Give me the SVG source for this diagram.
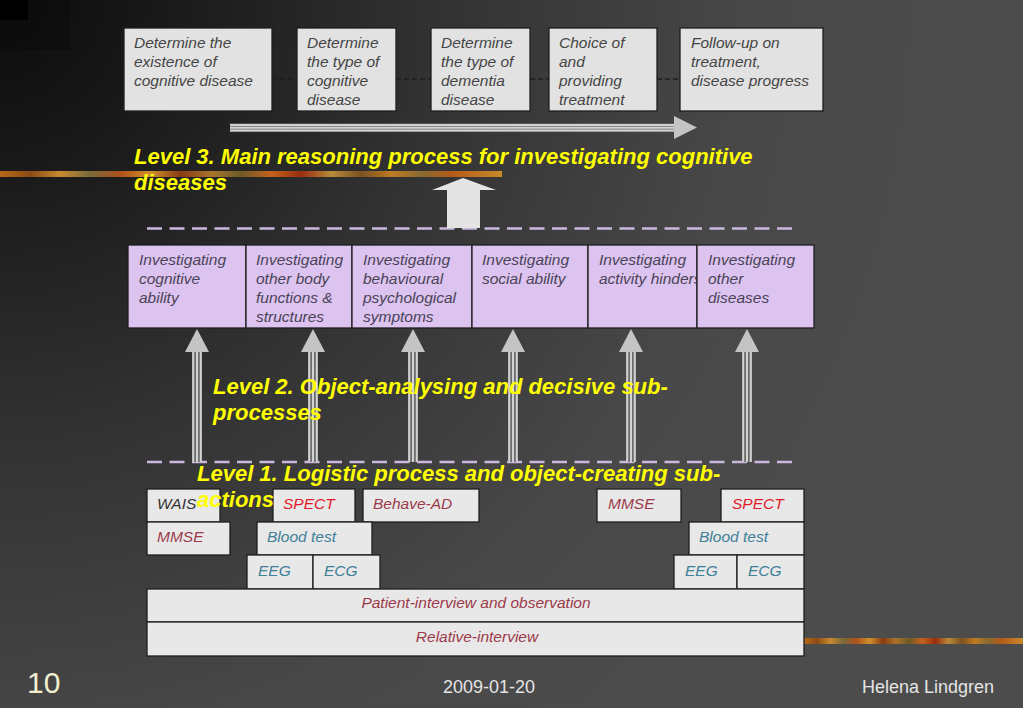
<svg xmlns="http://www.w3.org/2000/svg" width="1023" height="708" viewBox="0 0 1023 708">
<defs>
<radialGradient id="bg" gradientUnits="userSpaceOnUse" cx="0" cy="0" r="1000">
<stop offset="0" stop-color="#0c0c0c"/>
<stop offset="0.15" stop-color="#181818"/>
<stop offset="0.45" stop-color="#333333"/>
<stop offset="0.75" stop-color="#484848"/>
<stop offset="1" stop-color="#4c4c4c"/>
</radialGradient>
<linearGradient id="stripe" x1="0" y1="0" x2="1" y2="0">
<stop offset="0" stop-color="#b86a18"/>
<stop offset="0.06" stop-color="#8c4a14"/>
<stop offset="0.12" stop-color="#c88a30"/>
<stop offset="0.18" stop-color="#7a6a3a"/>
<stop offset="0.24" stop-color="#b0501a"/>
<stop offset="0.30" stop-color="#d0902c"/>
<stop offset="0.36" stop-color="#8a3a12"/>
<stop offset="0.42" stop-color="#a8742a"/>
<stop offset="0.48" stop-color="#6e5a28"/>
<stop offset="0.54" stop-color="#c4621c"/>
<stop offset="0.60" stop-color="#9a2e10"/>
<stop offset="0.66" stop-color="#b88a3a"/>
<stop offset="0.72" stop-color="#7a5020"/>
<stop offset="0.78" stop-color="#c07a22"/>
<stop offset="0.84" stop-color="#8a6a30"/>
<stop offset="0.90" stop-color="#b45a18"/>
<stop offset="1" stop-color="#c88a2a"/>
</linearGradient>
<marker id="dummy" markerWidth="1" markerHeight="1"/>
</defs>
<style>
.box{fill:#e2e2e2;stroke:#1e1e1e;stroke-width:1.3}
.lbox{fill:#e8e8e8;stroke:#1e1e1e;stroke-width:1.3}
.pbox{fill:#dcc3f0;stroke:#1e1e1e;stroke-width:1.3}
.t{font-family:"Liberation Sans",Arial,sans-serif;font-style:italic;font-size:15.5px;fill:#454545}
.pt{font-family:"Liberation Sans",Arial,sans-serif;font-style:italic;font-size:15.5px;fill:#4a4356}
.mr{fill:#9c3a4a}
.rd{fill:#e21a28}
.tl{fill:#3d8098}
.dk{fill:#333333}
.lvl{font-family:"Liberation Sans",Arial,sans-serif;font-style:italic;font-weight:bold;font-size:22px;fill:#ffff00}
.ft{font-family:"Liberation Sans",Arial,sans-serif;font-size:18px;fill:#e4e4e4}
.dash{stroke:#1e1e1e;stroke-width:1.5;stroke-dasharray:5 3;fill:none}
.lav{stroke:#c9b9df;stroke-width:2.5;stroke-dasharray:15 7.5;fill:none}
.shaftbg{fill:#6e6e6e}
.shaft{stroke:#d2d2d2;stroke-width:2;fill:none}
.head{fill:#c4c4c4}
</style>
<rect x="0" y="0" width="1023" height="708" fill="url(#bg)"/>
<rect x="0" y="0" width="70" height="50" fill="#0a0a0a" opacity="0.5"/>
<rect x="0" y="0" width="28" height="20" fill="#000000"/>
<rect x="0" y="171" width="502" height="6" fill="url(#stripe)"/>
<rect x="804" y="638" width="219" height="6" fill="url(#stripe)"/>

<g id="connectors">
<line class="dash" x1="272" y1="79" x2="297" y2="79"/>
<line class="dash" x1="396" y1="79" x2="431" y2="79"/>
<line class="dash" x1="530" y1="79" x2="549" y2="79"/>
<line class="dash" x1="657" y1="79" x2="680" y2="79"/>
<g id="main-arrow">
<rect class="shaftbg" x="230" y="123.5" width="444" height="8.5"/>
<line class="shaft" x1="230" y1="125" x2="674" y2="125" stroke-width="1.6"/>
<line class="shaft" x1="230" y1="127.8" x2="674" y2="127.8" stroke-width="1.6"/>
<line class="shaft" x1="230" y1="130.6" x2="674" y2="130.6" stroke-width="1.6"/>
<polygon class="head" points="674,116 697,127.5 674,139"/>
</g>
<line class="lav" x1="147" y1="228.5" x2="792" y2="228.5"/>
<line class="lav" x1="147" y1="462" x2="792" y2="462"/>
<polygon id="big-up-arrow" points="447,228 447,190 432,190 463,178 496,190 480,190 480,228" fill="#e4e4e4"/>
<g id="up-arrows">
<g transform="translate(197,0)">
<rect class="shaftbg" x="-5" y="352" width="10" height="110"/>
<line class="shaft" x1="-3.8" y1="352" x2="-3.8" y2="462"/><line class="shaft" x1="0" y1="352" x2="0" y2="462"/><line class="shaft" x1="3.8" y1="352" x2="3.8" y2="462"/>
<polygon class="head" points="-12,352 0,329 12,352"/>
</g>
<g transform="translate(313,0)">
<rect class="shaftbg" x="-5" y="352" width="10" height="110"/>
<line class="shaft" x1="-3.8" y1="352" x2="-3.8" y2="462"/><line class="shaft" x1="0" y1="352" x2="0" y2="462"/><line class="shaft" x1="3.8" y1="352" x2="3.8" y2="462"/>
<polygon class="head" points="-12,352 0,329 12,352"/>
</g>
<g transform="translate(413,0)">
<rect class="shaftbg" x="-5" y="352" width="10" height="110"/>
<line class="shaft" x1="-3.8" y1="352" x2="-3.8" y2="462"/><line class="shaft" x1="0" y1="352" x2="0" y2="462"/><line class="shaft" x1="3.8" y1="352" x2="3.8" y2="462"/>
<polygon class="head" points="-12,352 0,329 12,352"/>
</g>
<g transform="translate(513,0)">
<rect class="shaftbg" x="-5" y="352" width="10" height="110"/>
<line class="shaft" x1="-3.8" y1="352" x2="-3.8" y2="462"/><line class="shaft" x1="0" y1="352" x2="0" y2="462"/><line class="shaft" x1="3.8" y1="352" x2="3.8" y2="462"/>
<polygon class="head" points="-12,352 0,329 12,352"/>
</g>
<g transform="translate(631,0)">
<rect class="shaftbg" x="-5" y="352" width="10" height="110"/>
<line class="shaft" x1="-3.8" y1="352" x2="-3.8" y2="462"/><line class="shaft" x1="0" y1="352" x2="0" y2="462"/><line class="shaft" x1="3.8" y1="352" x2="3.8" y2="462"/>
<polygon class="head" points="-12,352 0,329 12,352"/>
</g>
<g transform="translate(747,0)">
<rect class="shaftbg" x="-5" y="352" width="10" height="110"/>
<line class="shaft" x1="-3.8" y1="352" x2="-3.8" y2="462"/><line class="shaft" x1="0" y1="352" x2="0" y2="462"/><line class="shaft" x1="3.8" y1="352" x2="3.8" y2="462"/>
<polygon class="head" points="-12,352 0,329 12,352"/>
</g>
</g>
</g>

<g id="top-boxes">
<g id="n-existence">
<rect class="box" x="124" y="28" width="148" height="83"/>
<text class="t" x="134" y="48">Determine the</text>
<text class="t" x="134" y="67">existence of</text>
<text class="t" x="134" y="86">cognitive disease</text>
</g>
<g id="n-type-cognitive">
<rect class="box" x="297" y="28" width="99" height="83"/>
<text class="t" x="307" y="48">Determine</text>
<text class="t" x="307" y="67">the type of</text>
<text class="t" x="307" y="86">cognitive</text>
<text class="t" x="307" y="105">disease</text>
</g>
<g id="n-type-dementia">
<rect class="box" x="431" y="28" width="99" height="83"/>
<text class="t" x="441" y="48">Determine</text>
<text class="t" x="441" y="67">the type of</text>
<text class="t" x="441" y="86">dementia</text>
<text class="t" x="441" y="105">disease</text>
</g>
<g id="n-treatment">
<rect class="box" x="549" y="28" width="108" height="83"/>
<text class="t" x="559" y="48">Choice of</text>
<text class="t" x="559" y="67">and</text>
<text class="t" x="559" y="86">providing</text>
<text class="t" x="559" y="105">treatment</text>
</g>
<g id="n-followup">
<rect class="box" x="680" y="28" width="143" height="83"/>
<text class="t" x="691" y="48">Follow-up on</text>
<text class="t" x="691" y="67">treatment,</text>
<text class="t" x="691" y="86">disease progress</text>
</g>
</g>

<g id="level2-boxes">
<g id="n-cognitive-ability">
<rect class="pbox" x="128" y="245" width="118" height="83"/>
<text class="pt" x="139" y="265">Investigating</text>
<text class="pt" x="139" y="284">cognitive</text>
<text class="pt" x="139" y="303">ability</text>
</g>
<g id="n-body-functions">
<rect class="pbox" x="246" y="245" width="106" height="83"/>
<text class="pt" x="256" y="265">Investigating</text>
<text class="pt" x="256" y="284">other body</text>
<text class="pt" x="256" y="303">functions &amp;</text>
<text class="pt" x="256" y="322">structures</text>
</g>
<g id="n-behavioural">
<rect class="pbox" x="352" y="245" width="120" height="83"/>
<text class="pt" x="363" y="265">Investigating</text>
<text class="pt" x="363" y="284">behavioural</text>
<text class="pt" x="363" y="303">psychological</text>
<text class="pt" x="363" y="322">symptoms</text>
</g>
<g id="n-social">
<rect class="pbox" x="472" y="245" width="116" height="83"/>
<text class="pt" x="482" y="265">Investigating</text>
<text class="pt" x="482" y="284">social ability</text>
</g>
<g id="n-activity">
<rect class="pbox" x="588" y="245" width="109" height="83"/>
<text class="pt" x="599" y="265">Investigating</text>
<text class="pt" x="599" y="284">activity hinders</text>
</g>
<g id="n-other-diseases">
<rect class="pbox" x="697" y="245" width="117" height="83"/>
<text class="pt" x="708" y="265">Investigating</text>
<text class="pt" x="708" y="284">other</text>
<text class="pt" x="708" y="303">diseases</text>
</g>
</g>

<g id="level1-boxes">
<g id="n-wais"><rect class="lbox" x="147" y="489" width="73" height="33"/><text class="t dk" x="157" y="509">WAIS</text></g>
<g id="n-spect-l"><rect class="lbox" x="273" y="489" width="82" height="33"/><text class="t rd" x="283" y="509">SPECT</text></g>
<g id="n-behave"><rect class="lbox" x="363" y="489" width="116" height="33"/><text class="t mr" x="373" y="509">Behave-AD</text></g>
<g id="n-mmse-l"><rect class="lbox" x="147" y="522" width="83" height="33"/><text class="t mr" x="157" y="542">MMSE</text></g>
<g id="n-blood-l"><rect class="lbox" x="257" y="522" width="115" height="33"/><text class="t tl" x="267" y="542">Blood test</text></g>
<g id="n-eeg-l"><rect class="lbox" x="247" y="555" width="66" height="34"/><text class="t tl" x="258" y="576">EEG</text></g>
<g id="n-ecg-l"><rect class="lbox" x="313" y="555" width="67" height="34"/><text class="t tl" x="324" y="576">ECG</text></g>
<g id="n-mmse-r"><rect class="lbox" x="597" y="489" width="84" height="33"/><text class="t mr" x="608" y="509">MMSE</text></g>
<g id="n-spect-r"><rect class="lbox" x="721" y="489" width="83" height="33"/><text class="t rd" x="732" y="509">SPECT</text></g>
<g id="n-blood-r"><rect class="lbox" x="689" y="522" width="115" height="33"/><text class="t tl" x="699" y="542">Blood test</text></g>
<g id="n-eeg-r"><rect class="lbox" x="674" y="555" width="63" height="34"/><text class="t tl" x="685" y="576">EEG</text></g>
<g id="n-ecg-r"><rect class="lbox" x="737" y="555" width="67" height="34"/><text class="t tl" x="748" y="576">ECG</text></g>
<g id="n-patient"><rect class="lbox" x="147" y="589" width="657" height="33"/><text class="t mr" x="476" y="608" text-anchor="middle">Patient-interview and observation</text></g>
<g id="n-relative"><rect class="lbox" x="147" y="622" width="657" height="34"/><text class="t mr" x="477" y="642" text-anchor="middle">Relative-interview</text></g>
</g>

<g id="level-labels">
<text class="lvl" x="134" y="164">Level 3. Main reasoning process for investigating cognitive</text>
<text class="lvl" x="134" y="190">diseases</text>
<text class="lvl" x="213" y="394">Level 2. Object-analysing and decisive sub-</text>
<text class="lvl" x="213" y="420">processes</text>
<text class="lvl" x="197" y="481">Level 1. Logistic process and object-creating sub-</text>
<text class="lvl" x="197" y="507">actions</text>
</g>

<g id="footer">
<text x="27" y="693" font-family="Liberation Sans, Arial, sans-serif" font-size="30" fill="#f3efcf">10</text>
<text class="ft" x="443" y="693">2009-01-20</text>
<text class="ft" x="862" y="693">Helena Lindgren</text>
</g>
</svg>
